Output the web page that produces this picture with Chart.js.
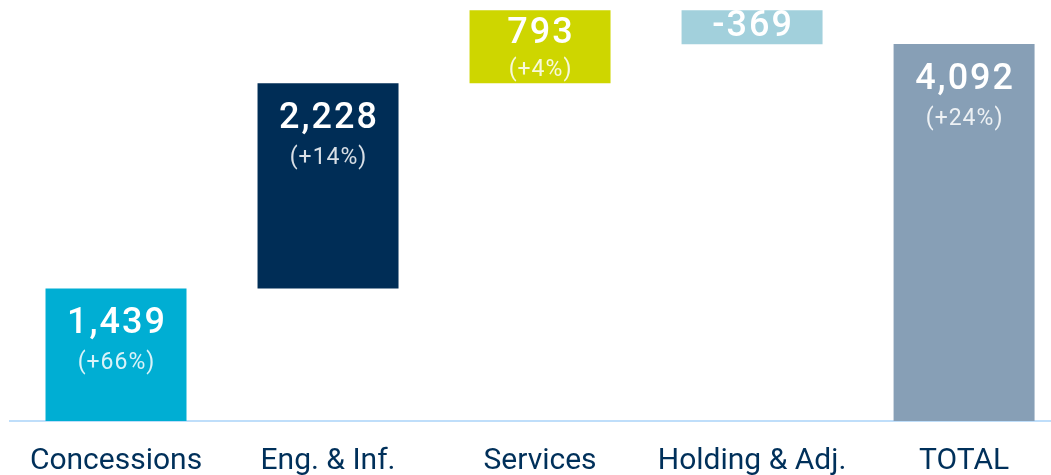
<!DOCTYPE html>
<html>
<head>
<meta charset="utf-8">
<script src="https://cdn.jsdelivr.net/npm/chart.js@4"></script>
<style>
  html, body { margin: 0; padding: 0; background: #fff; overflow: hidden; }
  #wrap { width: 1051px; height: 475px; }
</style>
</head>
<body>
<div id="wrap"><canvas id="wfChart" width="1051" height="475"></canvas></div>
<script>
// waterfall data
var categories = ["Concessions", "Eng. & Inf.", "Services", "Holding & Adj.", "TOTAL"];
var values = [1439, 2228, 793, -369, 4092];
var growth = ["(+66%)", "(+14%)", "(+4%)", null, "(+24%)"];
var colors = ['#00aed3', '#002d56', '#ced600', '#a2d0dc', '#879fb6'];

// build floating ranges: steps accumulate, last one is the total from zero
var ranges = [];
var run = 0;
for (var i = 0; i < values.length; i++) {
	if (i === values.length - 1) {
		ranges.push({ x: i, y: [0, values[i]] });
	} else {
		ranges.push({ x: i, y: [run, run + values[i]] });
		run += values[i];
	}
}

function fmt(v) {
	return v.toLocaleString('en-US');
}

var barLabels = {
	id: 'barLabels',
	afterDatasetsDraw: function(chart) {
		var c = chart.ctx;
		var meta = chart.getDatasetMeta(0);
		c.save();
		c.textAlign = 'center';
		c.textBaseline = 'middle';
		meta.data.forEach(function(bar, i) {
			var top = Math.min(bar.y, bar.base);
			var bottom = Math.max(bar.y, bar.base);
			var h = bottom - top;
			var numY, pctY;
			if (!growth[i]) {
				numY = top + h / 2;
			} else if (h < 100) {
				numY = top + h / 2 - 13;
				pctY = top + h / 2 + 24;
			} else {
				numY = top + 36;
				pctY = top + 75;
			}
			c.fillStyle = '#ffffff';
			c.font = '500 36px Roboto';
			c.letterSpacing = '2px';
			c.fillText(fmt(values[i]), bar.x + 1, numY);
			if (growth[i]) {
				c.fillStyle = 'rgba(255,255,255,0.85)';
				c.font = '400 23px Roboto';
				c.letterSpacing = '1px';
				c.fillText(growth[i], bar.x + 0.5, pctY);
			}
		});
		c.restore();
	}
};

var ctx = document.getElementById('wfChart').getContext('2d');
var chart = new Chart(ctx, {
	type: 'bar',
	data: {
		datasets: [{
			data: ranges,
			backgroundColor: colors,
			borderWidth: 0,
			barPercentage: 0.665,
			categoryPercentage: 1
		}]
	},
	options: {
		responsive: false,
		animation: false,
		layout: { padding: { left: 10, right: 0, top: 0, bottom: 0 } },
		plugins: {
			legend: { display: false },
			tooltip: { enabled: false }
		},
		scales: {
			x: {
				type: 'linear',
				offset: false,
				min: -0.5,
				max: 4.41,
				grid: { display: false, drawTicks: false },
				border: { display: true, color: '#bfdefa', width: 2 },
				afterBuildTicks: function(scale) {
					scale.ticks = categories.map(function(c, i) { return { value: i }; });
				},
				afterFit: function(scale) { scale.height = 54; },
				ticks: {
					autoSkip: false,
					maxRotation: 0,
					padding: 22,
					color: '#00305a',
					font: { family: 'Roboto', size: 30 },
					callback: function(v) { return categories[v]; }
				}
			},
			y: {
				display: false,
				min: 0,
				max: 4570
			}
		}
	},
	plugins: [barLabels]
});
</script>
</body>
</html>
